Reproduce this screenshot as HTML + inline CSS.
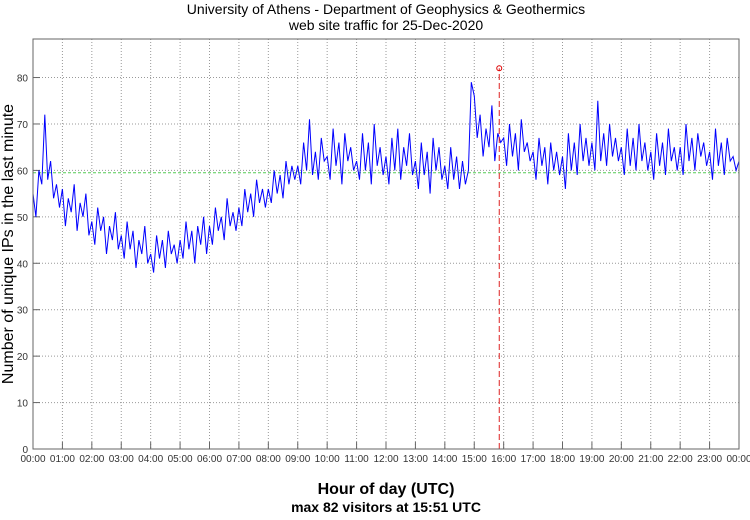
<!DOCTYPE html>
<html><head><meta charset="utf-8"><style>
body{margin:0;background:#fff;}
svg text{font-family:"Liberation Sans",sans-serif;}
</style></head><body>
<svg id="chart" width="750" height="515" viewBox="0 0 750 515" xmlns="http://www.w3.org/2000/svg">
<text x="386" y="14" font-size="14" text-anchor="middle">University of Athens - Department of Geophysics &amp; Geothermics</text>
<text x="386" y="30" font-size="14" text-anchor="middle">web site traffic for 25-Dec-2020</text>
<text transform="translate(13,244) rotate(-90)" font-size="16" text-anchor="middle">Number of unique IPs in the last minute</text>
<text x="386" y="494" font-size="16" font-weight="bold" text-anchor="middle">Hour of day (UTC)</text>
<text x="386" y="512" font-size="14" font-weight="bold" text-anchor="middle">max 82 visitors at 15:51 UTC</text>
<g id="grid"></g>
<g id="series"></g>
<rect x="33" y="39" width="706" height="410" fill="none" stroke="#666" stroke-width="1"/>
</svg>
<script>
const hourLabels=["00:00","01:00","02:00","03:00","04:00","05:00","06:00","07:00","08:00","09:00","10:00","11:00","12:00","13:00","14:00","15:00","16:00","17:00","18:00","19:00","20:00","21:00","22:00","23:00","00:00"];
const yTicks=[0,10,20,30,40,50,60,70,80];
const traffic=[
55,50,60,57,72,58,62,54,57,52,
56,48,54,51,57,47,53,50,55,46,
49,44,52,47,50,42,48,45,51,43,
46,41,49,43,47,39,45,42,48,40,
42,38,46,41,45,39,47,42,44,40,
45,41,49,43,47,40,48,44,50,42,
48,44,52,47,50,45,54,48,51,47,
52,48,56,51,55,50,58,53,56,52,
56,53,60,55,59,54,62,57,61,58,
61,57,66,60,71,59,64,58,67,62,
63,58,69,61,66,57,68,62,65,60,
62,58,68,60,66,57,70,61,65,59,
63,57,67,60,69,58,65,61,68,59,
62,56,66,59,64,55,67,60,65,58,
61,56,65,58,63,56,62,57,60,79,
76,67,72,63,69,65,74,62,68,66,
67,61,70,63,68,60,71,64,66,62,
64,58,67,61,65,57,66,60,64,59,
63,56,68,60,66,59,70,62,67,61,
66,60,75,62,68,61,70,63,67,62,
65,59,69,61,67,60,70,62,66,60,
64,58,68,61,66,59,69,62,65,60,
65,59,70,62,67,60,68,63,66,61,
64,58,69,61,66,59,67,62,63,60,62];
const meanValue=[59.5];
const maxPoint=[15+51/60,82];
const NS="http://www.w3.org/2000/svg";
const X0=33,X1=739,Y0=449,YTOP=39,YMAX=88.3;
function xs(h){return X0+(X1-X0)*h/24;}
function ys(v){return Y0-(Y0-YTOP)*v/YMAX;}
function mk(tag,attrs,parent){const e=document.createElementNS(NS,tag);for(const k in attrs)e.setAttribute(k,attrs[k]);parent.appendChild(e);return e;}
const grid=document.getElementById('grid'),ser=document.getElementById('series');
hourLabels.forEach((l,i)=>{
  const x=xs(i);
  if(i>0&&i<24){
    const g=mk('line',{x1:x,x2:x,y1:YTOP,y2:Y0,stroke:'#999','stroke-dasharray':'1,2'},grid);
    
    
    const t=mk('line',{x1:x,x2:x,y1:Y0-7,y2:Y0,stroke:'#666'},grid);
    
    
  }
  const tx=mk('text',{x:x,y:Y0+13,'font-size':10,'text-anchor':'middle',fill:'#333'},grid);
  tx.textContent=l;
  
  
});
yTicks.forEach(v=>{
  const y=ys(v);
  if(v>0){
    const g=mk('line',{x1:X0,x2:X1,y1:y,y2:y,stroke:'#999','stroke-dasharray':'1,2'},grid);
    
    
    const t=mk('line',{x1:X0,x2:X0+7,y1:y,y2:y,stroke:'#666'},grid);
    
    
  }
  const tx=mk('text',{x:X0-5,y:y+4,'font-size':10,'text-anchor':'end',fill:'#333'},grid);
  tx.textContent=v;
  
  
});
const mean=mk('line',{x1:X0,x2:X1,y1:ys(meanValue[0]),y2:ys(meanValue[0]),stroke:'#5c5','stroke-dasharray':'3,2'},ser);


const n=traffic.length-1;
const pts=traffic.map((v,i)=>xs(24*i/n).toFixed(1)+','+ys(v).toFixed(1)).join(' ');
const line=mk('polyline',{points:pts,fill:'none',stroke:'#00f','stroke-width':1},ser);


const vl=mk('line',{x1:xs(maxPoint[0]),x2:xs(maxPoint[0]),y1:Y0,y2:ys(maxPoint[1]),stroke:'#d22','stroke-dasharray':'6,3'},ser);


const c=mk('circle',{cx:xs(maxPoint[0]),cy:ys(maxPoint[1]),r:2.5,fill:'none',stroke:'#d00'},ser);


</script>
</body></html>
